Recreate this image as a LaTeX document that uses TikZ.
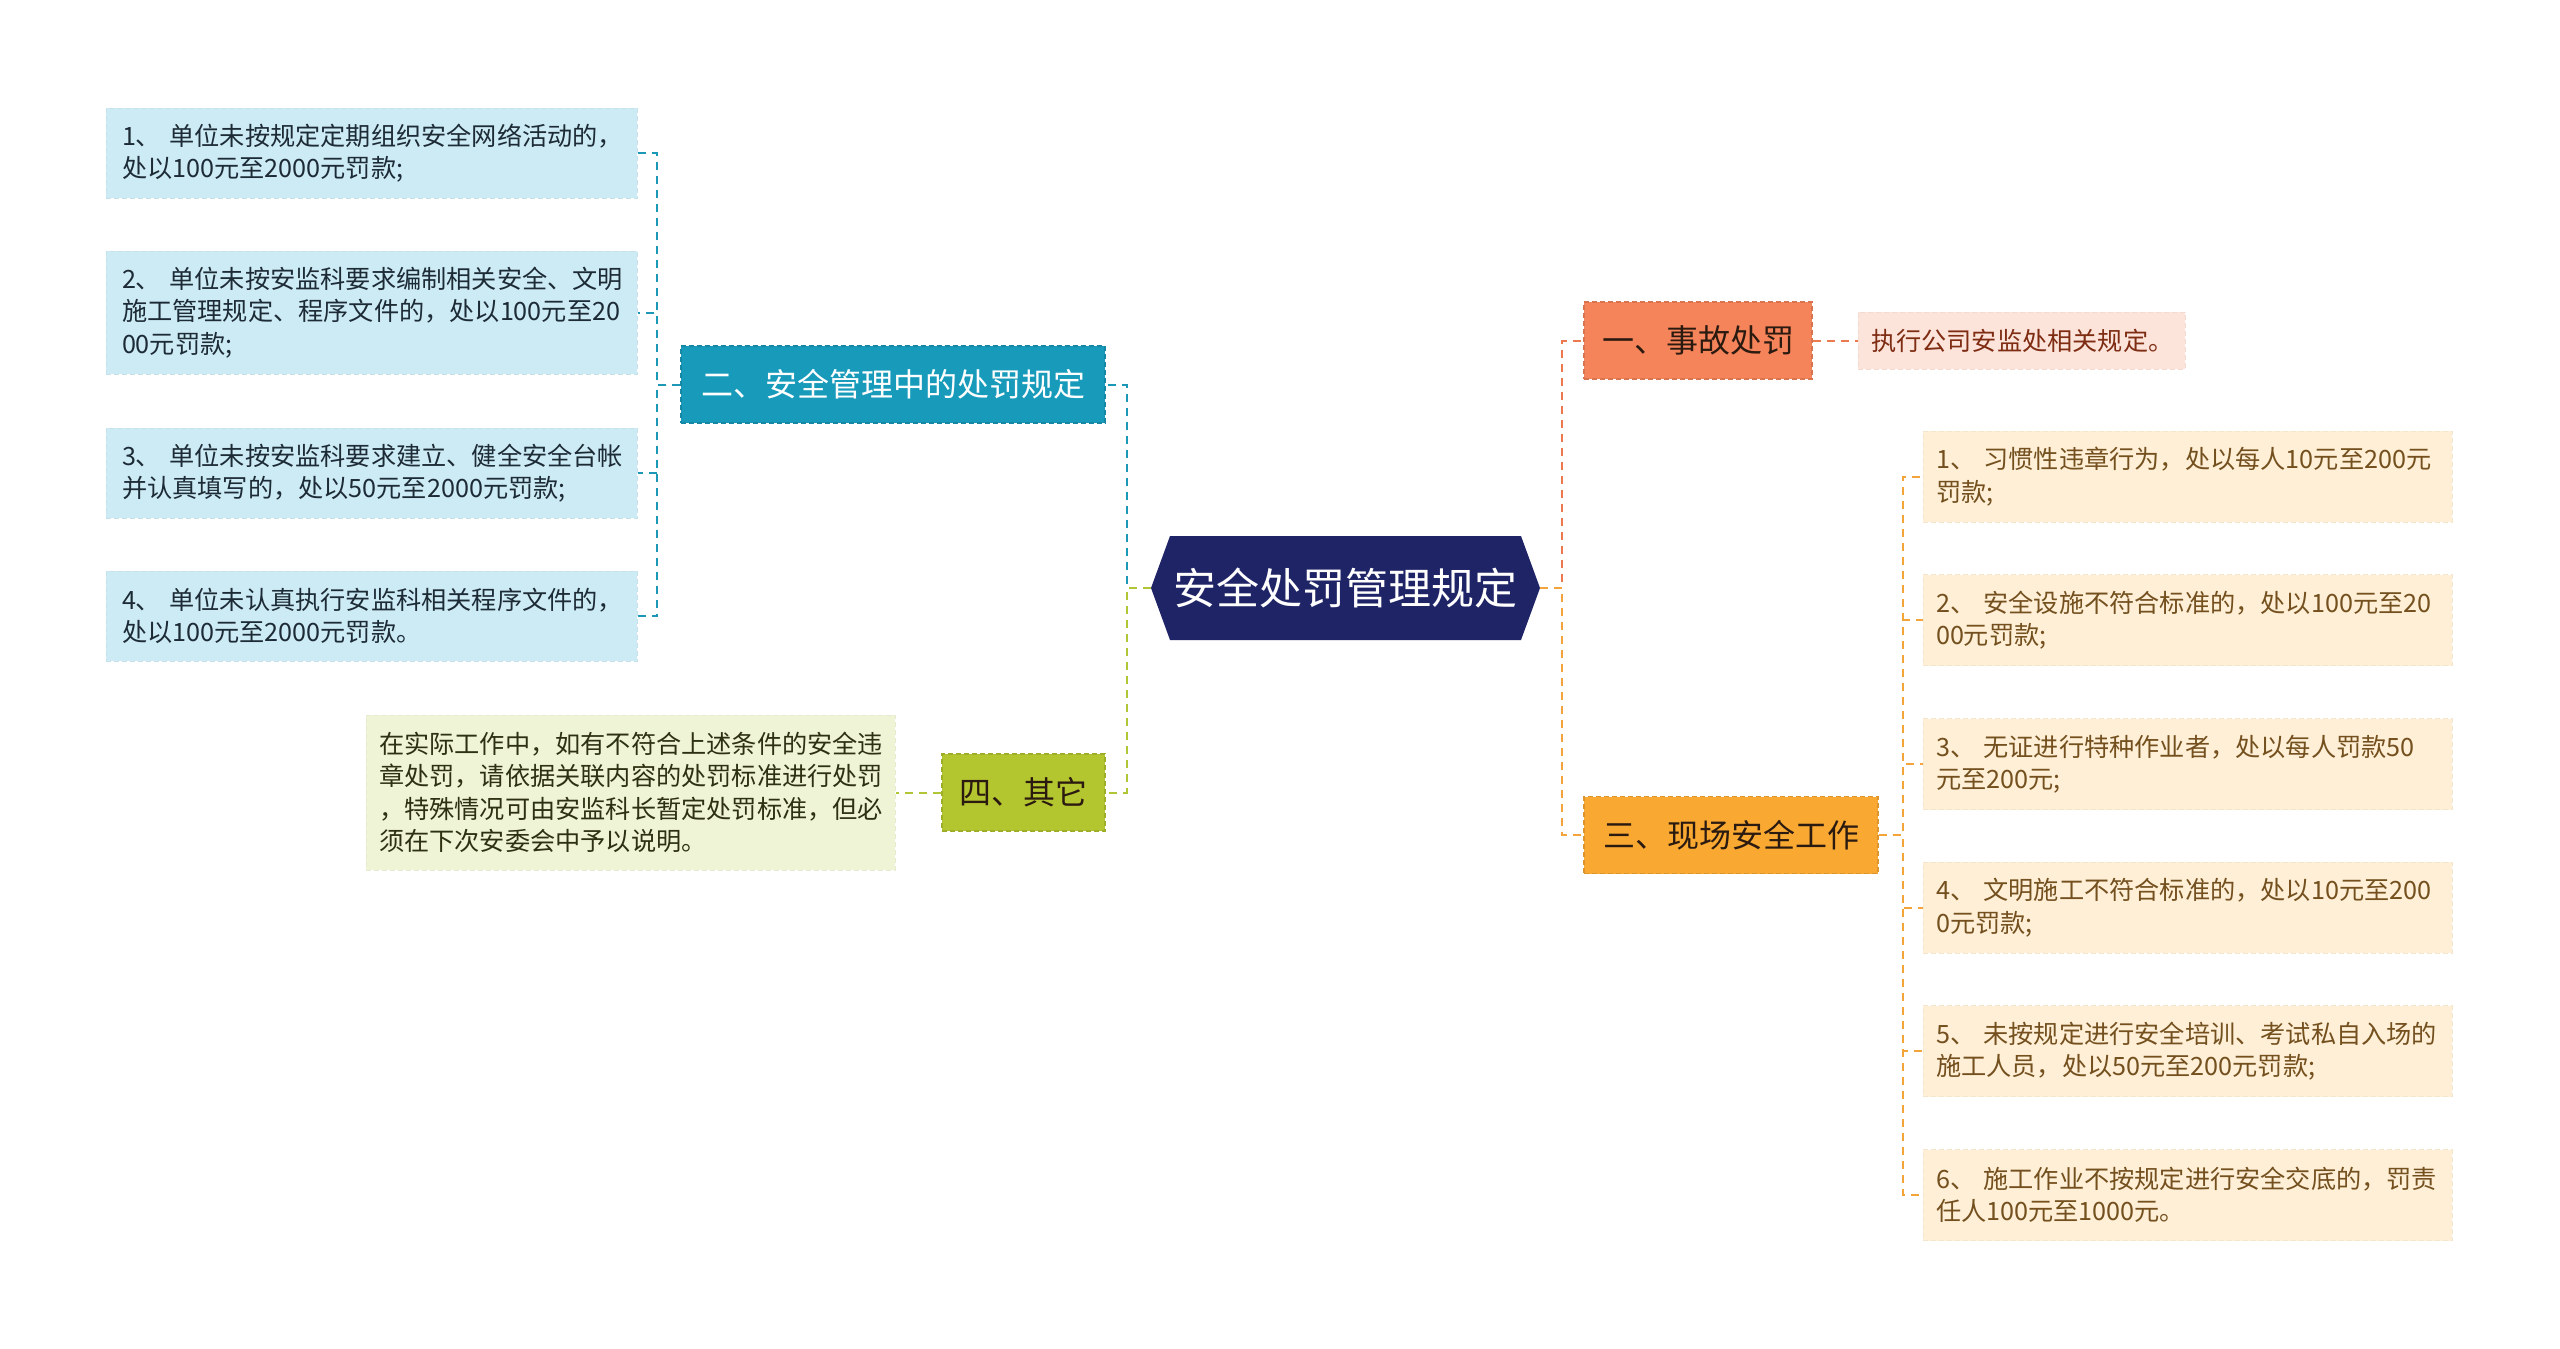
\documentclass[tikz,border=0pt]{standalone}
\usepackage{fontspec}
\setmainfont{Noto Sans CJK SC}
\usepackage{xcolor}
\usepackage{tikz}
\usetikzlibrary{positioning,calc}

\definecolor{rootBlue}{HTML}{1F2466}
\definecolor{coralFill}{HTML}{F5845A}
\definecolor{coralLeaf}{HTML}{FCE4DB}
\definecolor{coralText}{HTML}{7E2C12}
\definecolor{coralLine}{HTML}{EC7A50}
\definecolor{tealFill}{HTML}{189BBB}
\definecolor{tealLeaf}{HTML}{CDEBF4}
\definecolor{tealText}{HTML}{1D2B36}
\definecolor{tealLine}{HTML}{1C98B6}
\definecolor{orangeFill}{HTML}{F9A932}
\definecolor{orangeLeaf}{HTML}{FEEFD6}
\definecolor{orangeText}{HTML}{74501F}
\definecolor{orangeLine}{HTML}{F3A43A}
\definecolor{oliveFill}{HTML}{B4C62F}
\definecolor{oliveLeaf}{HTML}{F0F4D7}
\definecolor{oliveText}{HTML}{2E3012}
\definecolor{oliveLine}{HTML}{B2C536}
\definecolor{darkText}{HTML}{2B1A10}

\begin{document}
\begin{tikzpicture}[x=1pt, y=-1pt,
    every node/.style={inner sep=0pt},
    rootbox/.style={minimum width=389pt, minimum height=104pt, text=white,
        font=\fontsize{43}{50}\selectfont},
    branchbox/.style={minimum height=77pt, fill=#1, draw=#1!88!black,
        dash pattern=on 5pt off 3pt, line width=1.5pt,
        font=\fontsize{32}{38}\selectfont},
    leafbox/.style={fill=#1, draw=#1!96!black, dash pattern=on 5pt off 3pt,
        line width=1pt, align=left, inner xsep=13pt,
        font=\fontsize{25.2}{32.5}\selectfont},
    link/.style={draw=#1, line width=2pt, dash pattern=on 8pt off 6pt},
]
    \fill[white] (0,0) rectangle (2560,1349);
    \useasboundingbox (0,0) rectangle (2560,1349);

    % root
    \fill[rootBlue] (1151,588) -- (1170,536) -- (1521,536) -- (1540,588)
        -- (1521,640) -- (1170,640) -- cycle;
    \node[rootbox] (root) at (1345.5,588) {安全处罚管理规定};

    % branches
    \node[branchbox=coralFill, minimum width=228pt, text=darkText] (b1) at (1698,340.5) {一、事故处罚};
    \node[branchbox=tealFill, minimum width=424pt, text=white] (b2) at (893,384.5) {二、安全管理中的处罚规定};
    \node[branchbox=orangeFill, minimum width=294pt, text=darkText] (b3) at (1731,835) {三、现场安全工作};
    \node[branchbox=oliveFill, minimum width=163pt, text=darkText] (b4) at (1023.5,792.5) {四、其它};

    % leaves of b1
    \node[leafbox=coralLeaf, text=coralText, text width=301pt, minimum height=57pt] (c1) at (2021.5,340.5)
        {执行公司安监处相关规定。};

    % leaves of b2
    \node[leafbox=tealLeaf, text=tealText, inner xsep=16pt, text width=499pt, minimum height=90pt] (l1) at (371.5,153)
        {1、~单位未按规定定期组织安全网络活动的，\\处以100元至2000元罚款;};
    \node[leafbox=tealLeaf, text=tealText, inner xsep=16pt, text width=499pt, minimum height=123pt] (l2) at (371.5,312.5)
        {2、~单位未按安监科要求编制相关安全、文明\\施工管理规定、程序文件的，处以100元至20\\00元罚款;};
    \node[leafbox=tealLeaf, text=tealText, inner xsep=16pt, text width=499pt, minimum height=90pt] (l3) at (371.5,473)
        {3、~单位未按安监科要求建立、健全安全台帐\\并认真填写的，处以50元至2000元罚款;};
    \node[leafbox=tealLeaf, text=tealText, inner xsep=16pt, text width=499pt, minimum height=90pt] (l4) at (371.5,616)
        {4、~单位未认真执行安监科相关程序文件的，\\处以100元至2000元罚款。};

    % leaves of b3
    \node[leafbox=orangeLeaf, text=orangeText, text width=503pt, minimum height=91pt] (r1) at (2187.5,476.7)
        {1、~习惯性违章行为，处以每人10元至200元\\罚款;};
    \node[leafbox=orangeLeaf, text=orangeText, text width=503pt, minimum height=91pt] (r2) at (2187.5,620.4)
        {2、~安全设施不符合标准的，处以100元至20\\00元罚款;};
    \node[leafbox=orangeLeaf, text=orangeText, text width=503pt, minimum height=91pt] (r3) at (2187.5,764)
        {3、~无证进行特种作业者，处以每人罚款50\\元至200元;};
    \node[leafbox=orangeLeaf, text=orangeText, text width=503pt, minimum height=91pt] (r4) at (2187.5,907.8)
        {4、~文明施工不符合标准的，处以10元至200\\0元罚款;};
    \node[leafbox=orangeLeaf, text=orangeText, text width=503pt, minimum height=91pt] (r5) at (2187.5,1051.4)
        {5、~未按规定进行安全培训、考试私自入场的\\施工人员，处以50元至200元罚款;};
    \node[leafbox=orangeLeaf, text=orangeText, text width=503pt, minimum height=91pt] (r6) at (2187.5,1195)
        {6、~施工作业不按规定进行安全交底的，罚责\\任人100元至1000元。};

    % leaf of b4
    \node[leafbox=oliveLeaf, text=oliveText, text width=503pt, minimum height=155pt] (o1) at (630.5,792.5)
        {在实际工作中，如有不符合上述条件的安全违\\章处罚，请依据关联内容的处罚标准进行处罚\\，特殊情况可由安监科长暂定处罚标准，但必\\须在下次安委会中予以说明。};

    % connectors
    \draw[link=tealLine] (root.west) -- ++(-24,0) |- (b2.east);
    \draw[link=oliveLine] (root.west) -- ++(-24,0) |- (b4.east);
    \draw[link=coralLine] (root.east) -- ++(22,0) |- (b1.west);
    \draw[link=orangeLine] (root.east) -- ++(22,0) |- (b3.west);
    \draw[link=coralLine] (b1.east) -- (c1.west);
    \draw[link=oliveLine] (b4.west) -- (o1.east);
    \foreach \n in {l1,l2,l3,l4}
        \draw[link=tealLine] (b2.west) -- ++(-23,0) |- (\n.east);
    \foreach \n in {r1,r2,r3,r4,r5,r6}
        \draw[link=orangeLine] (b3.east) -- ++(24,0) |- (\n.west);
\end{tikzpicture}
\end{document}
